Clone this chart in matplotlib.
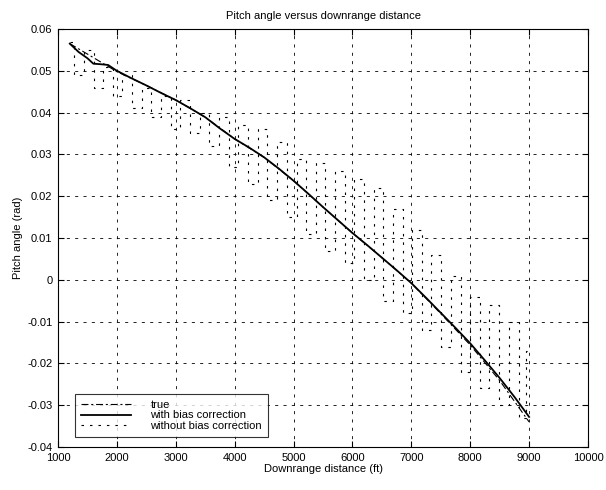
import matplotlib
matplotlib.use("Agg")
import matplotlib.pyplot as plt

plt.rcParams['font.family'] = ['Liberation Sans', 'DejaVu Sans']
plt.rcParams['lines.scale_dashes'] = False

# true pitch angle
x_true = [1200, 1500, 2000, 2500, 3000, 3500, 4000, 4500, 5000, 5500, 6000,
          6500, 7000, 7500, 8000, 8500, 9000]
y_true = [0.0565, 0.0540, 0.0498, 0.0465, 0.0430, 0.0389, 0.0337, 0.0293,
          0.0237, 0.0174, 0.0112, 0.0053, -0.0008, -0.0081, -0.0156, -0.0241,
          -0.0340]

# with bias correction
x_wb = [1200, 1350, 1500, 1600, 1700, 1850, 2000, 2250, 2500, 2750, 3000, 3250,
        3500, 3750, 4000, 4250, 4500, 4750, 5000, 5250, 5500, 5750, 6000, 6250,
        6500, 6750, 7000, 7250, 7500, 7750, 8000, 8250, 8500, 8750, 9000]
y_wb = [0.0565, 0.0545, 0.0530, 0.0517, 0.0516, 0.0514, 0.0500, 0.0482, 0.0465,
        0.0447, 0.0430, 0.0410, 0.0389, 0.0362, 0.0337, 0.0316, 0.0293, 0.0266,
        0.0237, 0.0206, 0.0174, 0.0143, 0.0112, 0.0083, 0.0053, 0.0023, -0.0008,
        -0.0043, -0.0079, -0.0115, -0.0152, -0.0193, -0.0235, -0.0280, -0.0328]

# without bias correction
x_wo = [1200, 1360, 1520, 1690, 1850, 2010, 2180, 2340, 2500, 2670, 2830, 3000,
        3160, 3330, 3490, 3650, 3820, 3980, 4150, 4310, 4470, 4640, 4800, 4970,
        5130, 5290, 5460, 5620, 5790, 5950, 6110, 6280, 6440, 6610, 6770, 6930,
        7100, 7260, 7420, 7590, 7750, 7920, 8080, 8240, 8410, 8570, 8740, 8900,
        9000]
y_wo = [0.057, 0.049, 0.055, 0.046, 0.0510, 0.044, 0.049, 0.041, 0.046, 0.039,
        0.044, 0.036, 0.043, 0.035, 0.040, 0.032, 0.039, 0.027, 0.037, 0.023,
        0.036, 0.019, 0.033, 0.015, 0.029, 0.011, 0.028, 0.007, 0.026, 0.004,
        0.024, 0.000, 0.022, -0.005, 0.017, -0.008, 0.012, -0.012, 0.006,
        -0.016, 0.001, -0.022, -0.004, -0.026, -0.006, -0.030, -0.010, -0.033,
        -0.017]

x_ticks = [1000, 2000, 3000, 4000, 5000, 6000, 7000, 8000, 9000, 10000]
y_ticks = [-0.04, -0.03, -0.02, -0.01, 0, 0.01, 0.02, 0.03, 0.04, 0.05, 0.06]
y_ticklabels = ['-0.04', '-0.03', '-0.02', '-0.01', '0', '0.01', '0.02',
                '0.03', '0.04', '0.05', '0.06']

fig = plt.figure(figsize=(6.06, 4.90), dpi=100)
ax = fig.add_axes([58/606, 1-447/490, 530/606, 418/490])

ax.plot(x_wo, y_wo, color='black', lw=0.8, linestyle=(0, (1.8, 4.3)),
        drawstyle='steps-mid', label='without bias correction')
ax.plot(x_true, y_true, color='black', lw=0.8, linestyle=(0, (5, 2, 1.5, 2)),
        label='true')
ax.plot(x_wb, y_wb, color='black', lw=1.3, linestyle='-',
        label='with bias correction')

ax.set_xlim(1000, 10000)
ax.set_ylim(-0.04, 0.06)
ax.set_xticks(x_ticks)
ax.set_xticklabels([str(v) for v in x_ticks])
ax.set_yticks(y_ticks)
ax.set_yticklabels(y_ticklabels)
ax.tick_params(direction='in', top=True, right=True, length=4, width=0.8,
               labelsize=8, colors='black', pad=4)
ax.grid(True, color='black', linestyle=(0, (2.2, 3.8)), linewidth=0.6)
for s in ax.spines.values():
    s.set_linewidth(0.8)
    s.set_color('black')

ax.set_title('Pitch angle versus downrange distance', fontsize=8, pad=7)
ax.set_xlabel('Downrange distance (ft)', fontsize=8, labelpad=1)
ax.set_ylabel('Pitch angle (rad)', fontsize=8, labelpad=3)

handles, labels = ax.get_legend_handles_labels()
order = [1, 2, 0]
leg = ax.legend([handles[i] for i in order], [labels[i] for i in order],
                loc='lower left', bbox_to_anchor=(0.032, 0.025), fontsize=8,
                frameon=True, fancybox=False, edgecolor='black',
                handlelength=4.5, labelspacing=0.05, borderpad=0.5,
                handletextpad=1.8, borderaxespad=0)
leg.get_frame().set_linewidth(0.8)

fig.savefig('out.png', dpi=100)
